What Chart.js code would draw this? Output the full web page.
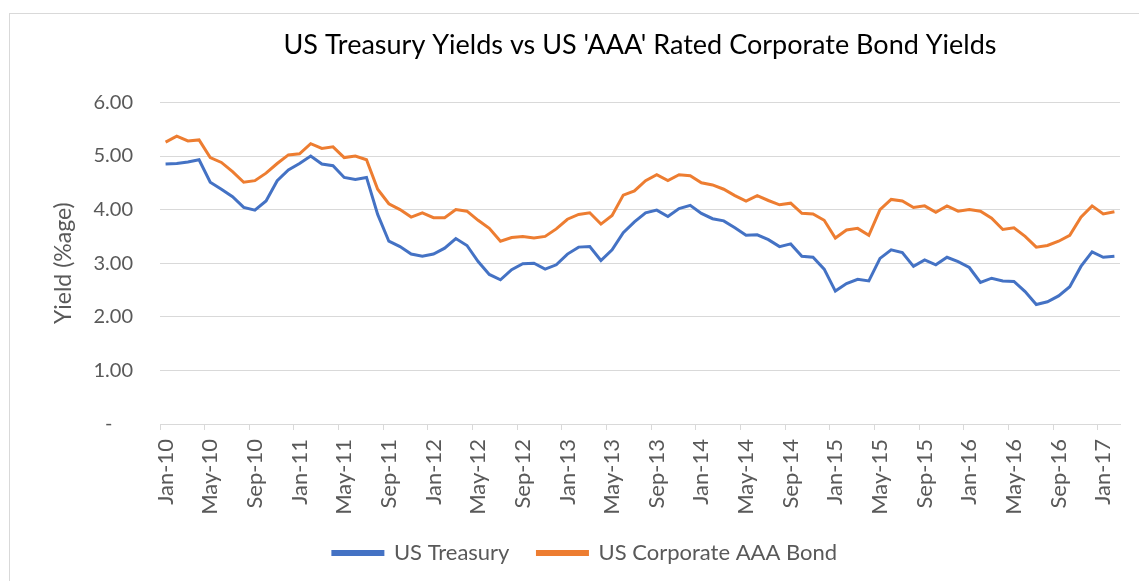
<!DOCTYPE html>
<html lang="en">
  <head>
    <meta charset="UTF-8" />
    <title>US Treasury Yields vs US 'AAA' Rated Corporate Bond Yields</title>
    <script src="https://cdn.jsdelivr.net/npm/chart.js"></script>
    <style>
      body { margin: 0; overflow: hidden; background: #fff; }
      #frame {
        position: absolute; left: 9px; top: 13px; width: 1200px; height: 700px;
        border: 1px solid #d9d9d9;
      }
      #wrap { position: absolute; left: 0; top: 0; width: 1139px; height: 581px; }
    </style>
  </head>
  <body>
    <div id="frame"></div>
    <div id="wrap"><canvas id="yield-chart"></canvas></div>

    <script>
      // monthly, Jan-10 .. Feb-17
      const monthNames = ["Jan", "Feb", "Mar", "Apr", "May", "Jun", "Jul", "Aug", "Sep", "Oct", "Nov", "Dec"];
      const years = ["10", "11", "12", "13", "14", "15", "16", "17"];
      const lastMonthCount = 2; // 2017 only has Jan, Feb

      const treasury = [
        4.85, 4.86, 4.89, 4.93, 4.51, 4.38, 4.24, 4.04, 3.99, 4.16, 4.54, 4.74,
        4.86, 5.00, 4.85, 4.82, 4.60, 4.56, 4.60, 3.91, 3.41, 3.31, 3.17, 3.13,
        3.17, 3.28, 3.46, 3.33, 3.03, 2.79, 2.69, 2.88, 2.99, 3.00, 2.89, 2.97,
        3.17, 3.30, 3.31, 3.05, 3.25, 3.57, 3.77, 3.94, 3.99, 3.87, 4.02, 4.08,
        3.93, 3.83, 3.79, 3.66, 3.52, 3.53, 3.44, 3.31, 3.36, 3.13, 3.11, 2.89,
        2.48, 2.62, 2.70, 2.67, 3.09, 3.25, 3.20, 2.94, 3.06, 2.97, 3.11, 3.03,
        2.92, 2.64, 2.72, 2.67, 2.66, 2.47, 2.23, 2.28, 2.39, 2.56, 2.94, 3.21,
        3.11, 3.13
      ];

      const corporateAAA = [
        5.26, 5.37, 5.28, 5.30, 4.97, 4.88, 4.71, 4.51, 4.54, 4.68, 4.86, 5.02,
        5.04, 5.23, 5.14, 5.17, 4.97, 5.00, 4.93, 4.38, 4.11, 4.00, 3.86, 3.94,
        3.85, 3.85, 4.00, 3.97, 3.80, 3.65, 3.41, 3.48, 3.50, 3.47, 3.50, 3.64,
        3.82, 3.91, 3.94, 3.73, 3.89, 4.27, 4.35, 4.54, 4.65, 4.54, 4.65, 4.63,
        4.50, 4.46, 4.38, 4.26, 4.16, 4.26, 4.17, 4.09, 4.12, 3.93, 3.92, 3.80,
        3.47, 3.62, 3.65, 3.52, 4.00, 4.19, 4.16, 4.04, 4.07, 3.95, 4.07, 3.97,
        4.00, 3.97, 3.84, 3.63, 3.66, 3.50, 3.30, 3.33, 3.41, 3.52, 3.86, 4.07,
        3.92, 3.96
      ];

      const labels = [];
      years.forEach((yy, yi) => {
        const n = yi === years.length - 1 ? lastMonthCount : 12;
        for (let m = 0; m < n; m++) labels.push(monthNames[m] + "-" + yy);
      });

      const textGrey = "#595959";
      const lineGrey = "#d9d9d9";
      const fontFamily = "Lato, 'Liberation Sans', sans-serif";

      const ctx = document.getElementById("yield-chart").getContext("2d");
      new Chart(ctx, {
        type: "line",
        data: {
          labels: labels,
          datasets: [
            {
              label: "US Treasury",
              data: treasury,
              borderColor: "#4472c4",
              backgroundColor: "#4472c4",
              borderWidth: 3,
              pointRadius: 0,
              tension: 0,
            },
            {
              label: "US Corporate AAA Bond",
              data: corporateAAA,
              borderColor: "#ed7d31",
              backgroundColor: "#ed7d31",
              borderWidth: 3,
              pointRadius: 0,
              tension: 0,
            },
          ],
        },
        options: {
          responsive: true,
          maintainAspectRatio: false,
          animation: false,
          layout: { padding: { left: 50, right: 19, top: 0, bottom: 7 } },
          plugins: {
            title: {
              display: true,
              fullSize: false, // centre over the plot area like the original
              text: "US Treasury Yields vs US 'AAA' Rated Corporate Bond Yields",
              color: "#000",
              font: { family: fontFamily, size: 27, weight: "normal" },
              padding: { top: 29, bottom: 41 },
            },
            legend: {
              position: "bottom",
              labels: {
                color: textGrey,
                font: { family: fontFamily, size: 22 },
                boxWidth: 50,
                boxHeight: 3,
                padding: 28,
              },
            },
            tooltip: { enabled: false },
          },
          scales: {
            x: {
              offset: true,
              afterFit: (scale) => {
                scale.height = 90;
                // don't let the rotated labels pad the plot sideways
                scale.paddingLeft = 0;
                scale.paddingRight = 0;
              },
              grid: {
                offset: true,
                drawOnChartArea: false,
                tickLength: 6,
                color: (c) => (c.index % 4 === 0 ? lineGrey : "rgba(0,0,0,0)"),
              },
              border: { display: true, color: lineGrey, width: 1 },
              ticks: {
                autoSkip: false,
                minRotation: 90,
                maxRotation: 90,
                color: textGrey,
                font: { family: fontFamily, size: 22 },
                padding: 9,
                callback: function (val, i) {
                  return i % 4 === 0 ? this.getLabelForValue(val) : "";
                },
              },
            },
            y: {
              min: 0,
              max: 6,
              afterFit: (scale) => { scale.width = 110; },
              grid: { color: lineGrey, drawTicks: false },
              border: { display: false },
              ticks: {
                stepSize: 1,
                color: textGrey,
                padding: 27,
                font: { family: fontFamily, size: 20 },
                callback: (v) => (v === 0 ? "-    " : v.toFixed(2)),
              },
              title: {
                display: true,
                text: "Yield (%age)",
                color: textGrey,
                font: { family: fontFamily, size: 23 },
                padding: { top: 0, bottom: 0 },
              },
            },
          },
        },
      });
    </script>
  </body>
</html>
